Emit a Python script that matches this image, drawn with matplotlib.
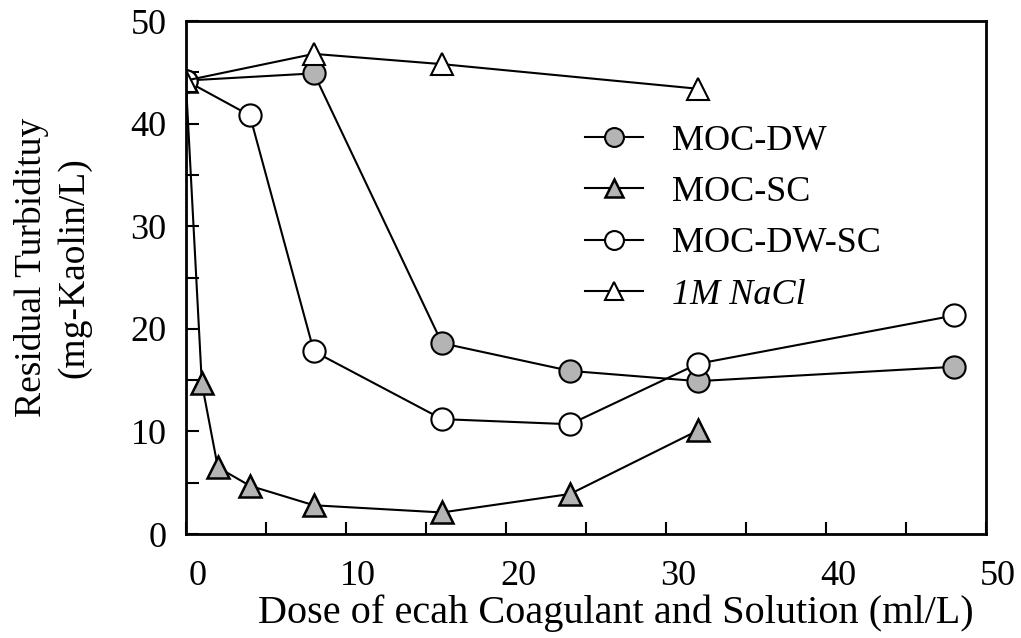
import matplotlib.pyplot as plt
from matplotlib.ticker import MultipleLocator
from matplotlib.transforms import ScaledTranslation

plt.rcParams['font.family'] = ['Liberation Serif', 'DejaVu Serif']

# doses (ml/L) and residual turbidity (mg-Kaolin/L)
dose_dw = [0, 8, 16, 24, 32, 48]
turb_dw = [44.2, 44.9, 18.6, 15.9, 14.9, 16.3]

dose_sc = [0, 1, 2, 4, 8, 16, 24, 32]
turb_sc = [44.2, 14.7, 6.5, 4.7, 2.8, 2.1, 3.9, 10.1]

dose_dwsc = [0, 4, 8, 16, 24, 32, 48]
turb_dwsc = [44.2, 40.8, 17.8, 11.2, 10.7, 16.6, 21.3]

dose_nacl = [0, 8, 16, 32]
turb_nacl = [44.2, 46.8, 45.8, 43.4]

gray = '#b4b4b4'

fig = plt.figure(figsize=(10.21, 6.38), dpi=100)
ax = fig.add_axes([0.182, 0.163, 0.784, 0.804])

ax.plot(dose_dw, turb_dw, '-o', color='black', lw=1.5, ms=16,
        mfc=gray, mec='black', mew=1.5, label='MOC-DW')
ax.plot(dose_sc, turb_sc, '-^', color='black', lw=1.5, ms=16,
        mfc=gray, mec='black', mew=1.8, label='MOC-SC')
ax.plot(dose_dwsc, turb_dwsc, '-o', color='black', lw=1.5, ms=16,
        mfc='white', mec='black', mew=1.5, label='MOC-DW-SC')
ax.plot(dose_nacl, turb_nacl, '-^', color='black', lw=1.5, ms=16,
        mfc='white', mec='black', mew=1.5, label='1M NaCl')

ax.set_xlim(0, 50)
ax.set_ylim(0, 50)
ax.xaxis.set_major_locator(MultipleLocator(10))
ax.xaxis.set_minor_locator(MultipleLocator(5))
ax.yaxis.set_major_locator(MultipleLocator(10))
ax.yaxis.set_minor_locator(MultipleLocator(5))
ax.tick_params(which='both', direction='in', length=9, width=1.5,
               labelsize=26, top=False, right=False)
ax.tick_params(axis='x', pad=19)
ax.tick_params(axis='y', pad=14)
for s in ax.spines.values():
    s.set_linewidth(2)

# the scanned x tick labels sit a little to the right of their ticks
shift = ScaledTranslation(12 / 100, 0, fig.dpi_scale_trans)
for lbl in ax.get_xticklabels():
    lbl.set_transform(lbl.get_transform() + shift)

ax.set_xlabel('Dose of ecah Coagulant and Solution (ml/L)', fontsize=29)
ax.xaxis.set_label_coords(0.5375, -0.118)
ax.set_ylabel('Residual Turbidituy\n(mg-Kaolin/L)', fontsize=27, linespacing=1.3)
ax.yaxis.set_label_coords(-0.118, 0.52)

leg = ax.legend(loc='upper left', bbox_to_anchor=(0.458, 0.862), frameon=False,
                fontsize=26, handlelength=1.6, labelspacing=0.5,
                handletextpad=0.8, markerscale=0.85)
leg.get_texts()[3].set_fontstyle('italic')

fig.savefig('out.png', dpi=100)
